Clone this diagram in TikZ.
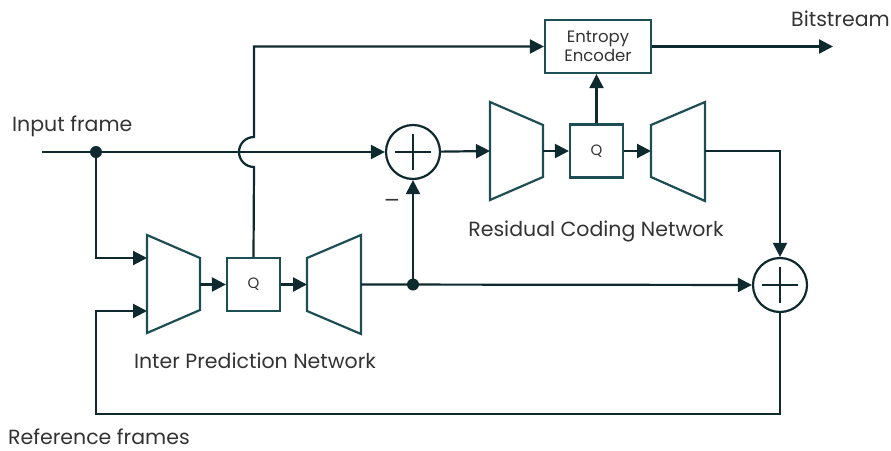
\documentclass[tikz,border=0pt]{standalone}
\usepackage{fontspec}
\setmainfont{Poppins}
\newfontfamily\symfont{DejaVu Sans}
\usetikzlibrary{arrows.meta,calc}
\definecolor{ink}{HTML}{0F2A2E}
\definecolor{tealline}{HTML}{1D4E54}
\definecolor{txt}{HTML}{333333}
\tikzset{
  wire/.style={draw=ink, line width=2.2pt},
  arr/.style={wire, -{Triangle[length=14pt,width=14pt]}},
  sumnode/.style={circle, draw=ink, line width=2.2pt, minimum size=54pt, inner sep=0pt},
  blockbox/.style={draw=tealline, line width=2.2pt, inner sep=0pt, align=center,
    text=txt, font=\fontsize{16.5}{20}\selectfont},
  netshape/.style={draw=tealline, line width=2.2pt, line join=miter},
  junction/.style={circle, fill=ink, minimum size=12pt, inner sep=0pt},
  label/.style={text=txt, font=\fontsize{20.5}{24}\selectfont, inner sep=0pt, text depth=0pt},
}
\begin{document}
\begin{tikzpicture}[x=1pt,y=-1pt]
\useasboundingbox (0,0) rectangle (891,450);

% summing junctions
\node[sumnode] (s1) at (413,152) {};
\node[sumnode] (s2) at (780,285) {};
\foreach \s in {s1,s2} {
  \draw[wire] ($(\s.center)+(-18,0)$) -- ($(\s.center)+(18,0)$);
  \draw[wire] ($(\s.center)+(0,-18)$) -- ($(\s.center)+(0,18)$);
}

% quantisers and entropy coder
\node[blockbox, minimum width=106pt, minimum height=53pt] (ee) at (598,46.5) {Entropy\\[-1pt]Encoder};
\node[blockbox, minimum width=53pt, minimum height=53pt, font=\fontsize{15}{18}\selectfont] (qr) at (596.5,151) {Q};
\node[blockbox, minimum width=53pt, minimum height=53pt, font=\fontsize{15}{18}\selectfont] (qi) at (253.5,284.5) {Q};

% residual coding network: encoder / decoder
\draw[netshape] (490,102) -- (543,125) -- (543,177) -- (490,200) -- cycle;
\coordinate (erin) at (490,151);
\coordinate (erout) at (543,151);
\draw[netshape] (651,125) -- (705,102) -- (705,201) -- (651,177) -- cycle;
\coordinate (drin) at (651,151);
\coordinate (drout) at (705,151);

% inter prediction network: encoder / decoder
\draw[netshape] (147,235) -- (200,258) -- (200,310) -- (147,333) -- cycle;
\coordinate (eiA) at (147,258);
\coordinate (eiB) at (147,311);
\coordinate (eiout) at (200,284.5);
\draw[netshape] (307,258) -- (361,235) -- (361,334) -- (307,311) -- cycle;
\coordinate (diin) at (307,284.5);
\coordinate (diout) at (361,284.5);

% free ends and corners
\coordinate (start) at (42,152);
\coordinate (bitend) at (833,46.5);
\coordinate (rcorner) at (780,151);
\coordinate (fbA) at (780,414);
\coordinate (fbB) at (96,414);
\coordinate (fbC) at (96,311);
\coordinate (hopbot) at (254,167);
\coordinate (hoptop) at (254,137);
\coordinate (topcorner) at (254,46.5);

\node[junction] (dIn) at (96,152) {};
\node[junction] (dLo) at (413,284.5) {};

% input path
\draw[arr] (start) -- (s1);
\draw[arr] (dIn.center) |- (eiA);

% inter prediction chain
\draw[arr] (eiout) -- (qi);
\draw[arr] (qi) -- (diin);
\draw[arr] (diout) -- (s2);
\draw[arr] (dLo.center) -- (s1);

% latent of inter prediction to the entropy coder, hopping over the input line
\draw[arr] (qi.north) -- (hopbot)
  .. controls (245.7,167) and (239,160.3) .. (239,152)
  .. controls (239,143.7) and (245.7,137) .. (hoptop)
  -- (topcorner) -- (ee.west);
\draw[arr] (ee.east) -- (bitend);

% residual coding chain
\draw[arr] (s1) -- (erin);
\draw[arr] (erout) -- (qr);
\draw[arr] (qr) -- (drin);
\draw[arr] (qr.north) -- (qr.north |- ee.south);
\draw[arr] (drout) -- (rcorner) -- (s2);

% reconstruction fed back as reference
\draw[arr] (s2) -- (fbA) -- (fbB) -- (fbC) -- (eiB);

% labels
\node[label, anchor=base west] (lin) at (12,131) {Input frame};
\node[label, anchor=base west] (lbit) at (791,26) {Bitstream};
\node[label, anchor=base] (lres) at (596,236) {Residual Coding Network};
\node[label, anchor=base] (linter) at (255,368) {Inter Prediction Network};
\node[label, anchor=base west] (lref) at (8,444) {Reference frames};
\node[label, anchor=center, font=\symfont\fontsize{20}{24}\selectfont] (lminus) at (392,203) {−};
\end{tikzpicture}
\end{document}
